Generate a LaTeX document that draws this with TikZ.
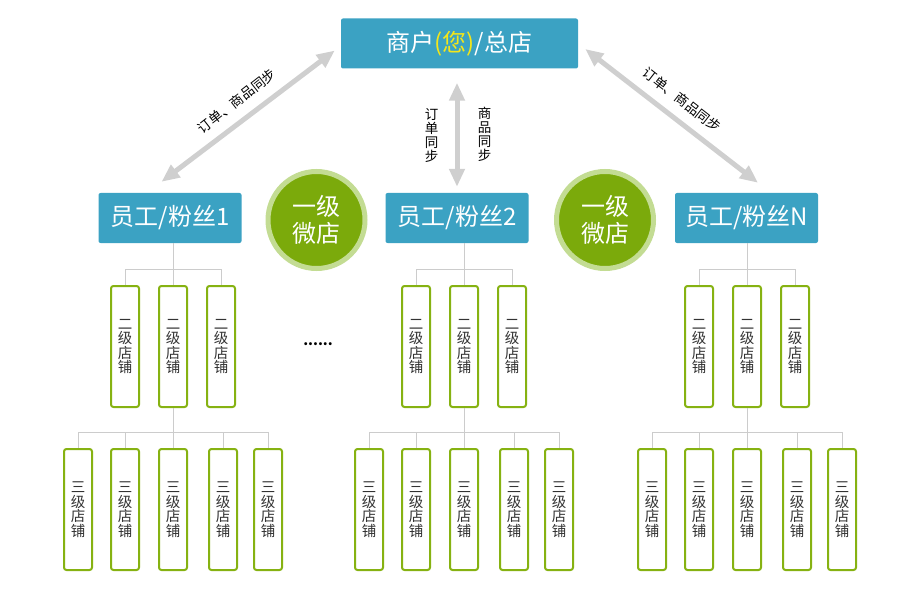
\documentclass[tikz,border=0pt]{standalone}
\usepackage{fontspec}
\setmainfont{Noto Sans CJK SC}
\usepackage{xcolor}
\usepackage{tikz}
\usetikzlibrary{positioning, arrows.meta}

\definecolor{hqblue}{HTML}{3BA2C3}
\definecolor{youyellow}{HTML}{F4E619}
\definecolor{shopgreen}{HTML}{86B212}
\definecolor{ringgreen}{HTML}{C3DC93}
\definecolor{wdgreen}{HTML}{7BAA0B}
\definecolor{syncgray}{HTML}{CFCFCF}
\definecolor{treegray}{HTML}{CCCCCC}

\tikzset{
  bluebox/.style={fill=hqblue, text=white, rounded corners=2pt, minimum height=50pt, inner sep=0pt},
  shopbox/.style={draw=shopgreen, line width=2pt, rounded corners=2.5pt, fill=white, minimum width=28pt, inner sep=0pt, align=center, text=black!80, font=\fontsize{14.5}{14.5}\selectfont},
  wdcircle/.style={circle, fill=wdgreen, draw=ringgreen, line width=5pt, minimum size=97pt, inner sep=0pt, align=center, text=white, font=\fontsize{24}{27}\selectfont},
  sync/.style={line width=5pt, draw=syncgray, {Triangle[length=18pt,width=15pt]}-{Triangle[length=18pt,width=15pt]}},
  tree/.style={draw=treegray, line width=1pt},
  synclabel/.style={font=\fontsize{13.5}{14}\selectfont, align=center, inner sep=0pt}
}

\begin{document}
\begin{tikzpicture}[x=1pt, y=-1pt]
    \useasboundingbox (0,0) rectangle (915,596);

    % top and first row
    \node[bluebox, minimum width=237pt, font=\fontsize{24}{26}\selectfont] (hq) at (459.5,43.5) {商户{\color{youyellow}(您)}/总店};
    \node[bluebox, minimum width=143pt, font=\fontsize{24}{26}\selectfont] (emp1) at (170,218) {员工/粉丝1};
    \node[bluebox, minimum width=143pt, font=\fontsize{24}{26}\selectfont] (emp2) at (457,218) {员工/粉丝2};
    \node[bluebox, minimum width=143pt, font=\fontsize{24}{26}\selectfont] (emp3) at (746.5,218) {员工/粉丝N};
    \node[wdcircle] (wd1) at (316.5,220) {一级\\微店};
    \node[wdcircle] (wd2) at (605,220) {一级\\微店};
    \node[font=\fontsize{14}{14}\bfseries] (dots) at (318,344) {......};

    % sync arrows
    \draw[sync] ([shift={(-6,7)}]hq.west) -- ([shift={(-8.5,-11)}]emp1.north);
    \draw[sync, shorten <=14pt, shorten >=6pt] (emp2.north |- hq.south) -- (emp2.north);
    \draw[sync] ([shift={(7,5.5)}]hq.east) -- ([shift={(11.5,-10)}]emp3.north);
    \node[synclabel, rotate=38] (lab1) at (237,101) {订单、商品同步};
    \node[synclabel, rotate=-38] (lab3) at (682,100) {订单、商品同步};
    \node[synclabel] (lab2a) at (431.5,135) {订\\单\\同\\步};
    \node[synclabel] (lab2b) at (484.5,134) {商\\品\\同\\步};

    % shops
    \foreach \g/\m in {1/173, 2/464, 3/747} {
        \foreach \i/\dx in {1/-48, 2/0, 3/48}
            \node[shopbox, minimum height=121pt] (l2-\g-\i) at ({\m+\dx},346.5) {二\\级\\店\\铺};
        \foreach \i/\dx in {1/-95, 2/-48, 3/0, 4/50, 5/95}
            \node[shopbox, minimum height=121pt] (l3-\g-\i) at ({\m+\dx},509.5) {三\\级\\店\\铺};
        \draw[tree] (l2-\g-2.north |- emp\g.south) -- (l2-\g-2.north);
        \draw[tree] (l2-\g-1.north) -- ++(0,-16) -| (l2-\g-3.north);
        \draw[tree] (l2-\g-2.south) -- (l3-\g-3.north);
        \draw[tree] (l3-\g-1.north) -- ++(0,-16) -| (l3-\g-5.north);
        \draw[tree] (l3-\g-2.north) -- ++(0,-16);
        \draw[tree] (l3-\g-4.north) -- ++(0,-16);
    }
\end{tikzpicture}
\end{document}
